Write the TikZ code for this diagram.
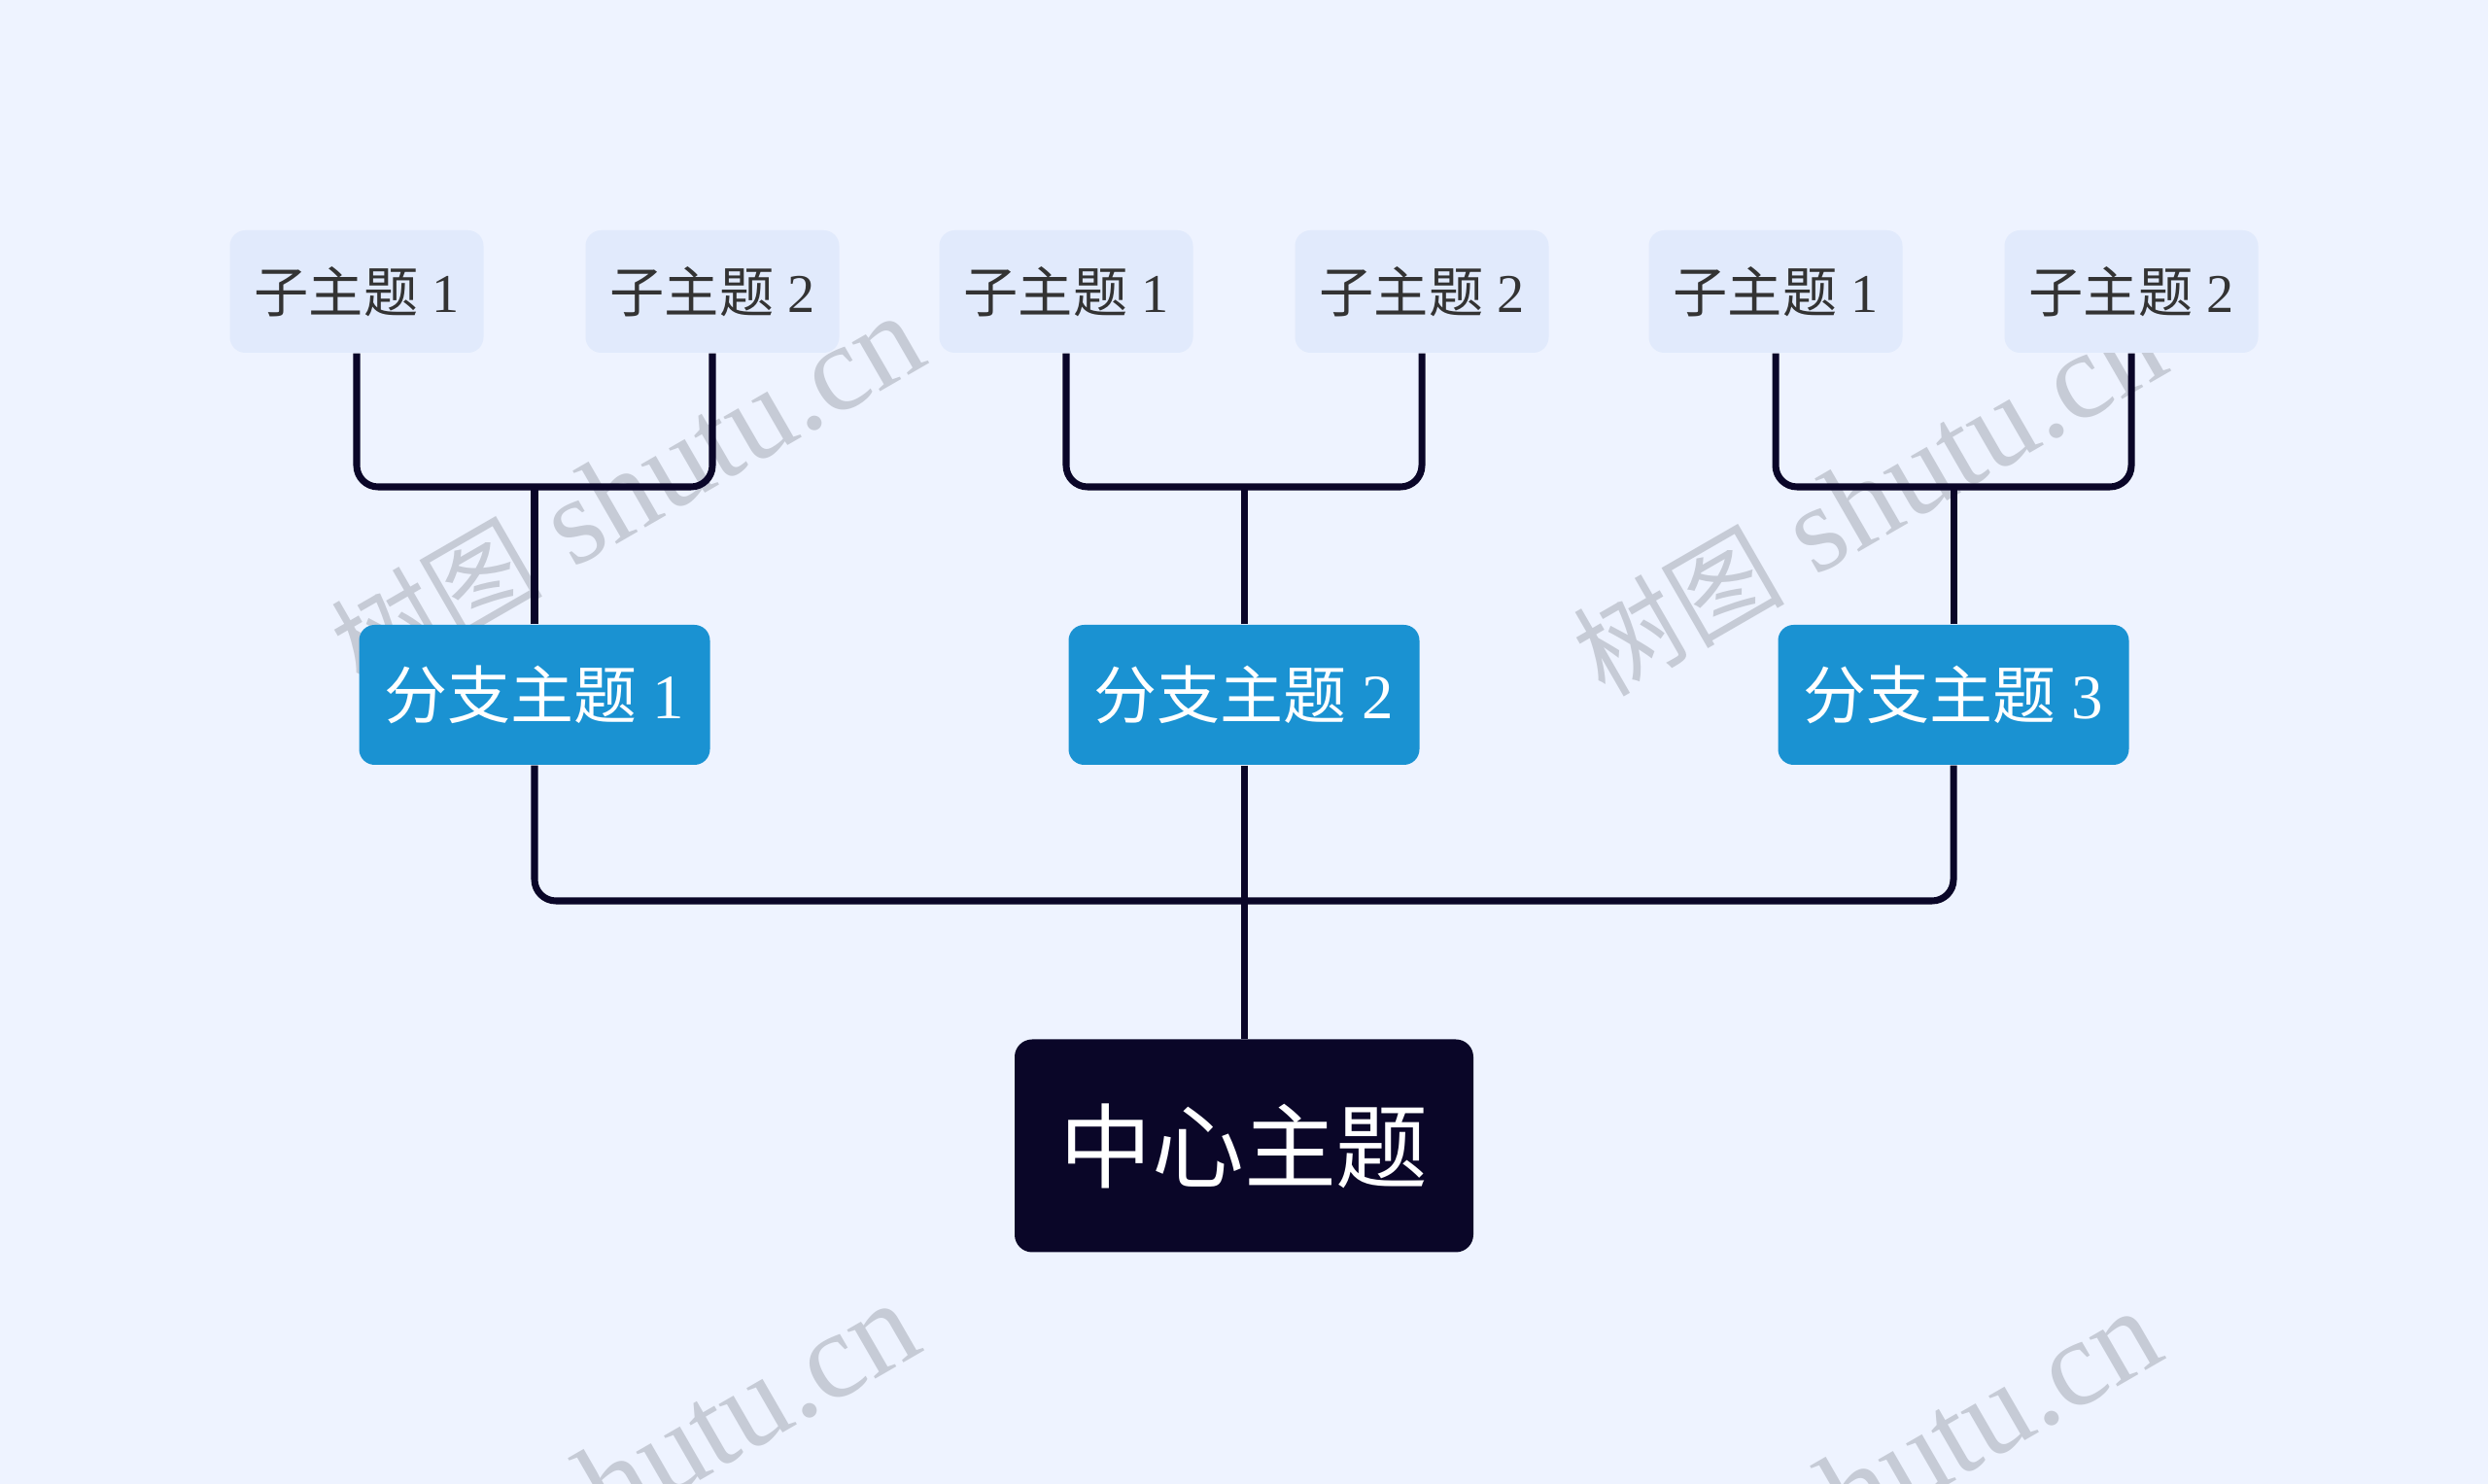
\documentclass[tikz,border=0pt]{standalone}
\usepackage{fontspec}
\setmainfont{Liberation Serif}
\newfontfamily\cjk{Noto Sans CJK SC}
\definecolor{pagebg}{HTML}{EEF3FF}
\definecolor{subfill}{HTML}{E1EAFC}
\definecolor{subtext}{HTML}{333333}
\definecolor{branchfill}{HTML}{1A92D2}
\definecolor{centerfill}{HTML}{0A0628}
\definecolor{edgecolor}{HTML}{0A0628}
\definecolor{markgray}{HTML}{C6CBD6}

\begin{document}
\begin{tikzpicture}
\clip (0,0) rectangle (25.6,15.27);
\fill[pagebg] (0,0) rectangle (25.6,15.27);

\coordinate (C_1) at (12.8, 3.48);
\coordinate (B_1) at (5.5, 8.12);
\coordinate (B_2) at (12.8, 8.12);
\coordinate (B_3) at (20.1, 8.12);
\coordinate (S1_1) at (3.67, 12.27);
\coordinate (S1_2) at (7.33, 12.27);
\coordinate (S2_1) at (10.97, 12.27);
\coordinate (S2_2) at (14.63, 12.27);
\coordinate (S3_1) at (18.27, 12.27);
\coordinate (S3_2) at (21.93, 12.27);
\coordinate (J_1) at (5.5, 10.26);
\coordinate (J_2) at (12.8, 10.26);
\coordinate (J_3) at (20.1, 10.26);
\coordinate (T_1) at (12.8, 6.0);


\tikzset{MarkStyle/.style = {
 text = markgray,
 rotate = 30,
 inner sep = 0pt,
 font = \fontsize{36}{40}\selectfont} }
\newcommand{\markcjk}{\cjk\fontsize{31}{36}\selectfont}

\node[MarkStyle] (Mark1) at (6.45, 10.21) {{\markcjk 树图} shutu.cn};
\node[MarkStyle] (Mark2) at (19.23, 10.13) {{\markcjk 树图} shutu.cn};
\node[MarkStyle] (Mark3) at (6.40, 0.05) {{\markcjk 树图} shutu.cn};
\node[MarkStyle] (Mark4) at (19.18, -0.03) {{\markcjk 树图} shutu.cn};


\tikzset{CenterStyle/.style = {
 shape = rectangle,
 rounded corners = 0.18cm,
 fill = centerfill,
 text = white,
 inner sep = 0pt,
 minimum width = 4.72cm,
 minimum height = 2.19cm,
 font = \fontsize{27}{32}\selectfont} }

\tikzset{BranchStyle/.style = {
 shape = rectangle,
 rounded corners = 0.16cm,
 fill = branchfill,
 text = white,
 inner sep = 0pt,
 minimum width = 3.61cm,
 minimum height = 1.44cm,
 font = \fontsize{18.5}{22}\selectfont} }

\tikzset{SubStyle/.style = {
 shape = rectangle,
 rounded corners = 0.16cm,
 fill = subfill,
 text = subtext,
 inner sep = 0pt,
 minimum width = 2.61cm,
 minimum height = 1.26cm,
 font = \fontsize{16}{19}\selectfont} }

\node[CenterStyle] (Center) at (C_1) {\cjk 中心主题};
\node[BranchStyle] (Branch1) at (B_1) {{\cjk 分支主题} 1};
\node[BranchStyle] (Branch2) at (B_2) {{\cjk 分支主题} 2};
\node[BranchStyle] (Branch3) at (B_3) {{\cjk 分支主题} 3};
\node[SubStyle] (Sub1_1) at (S1_1) {{\cjk 子主题} 1};
\node[SubStyle] (Sub1_2) at (S1_2) {{\cjk 子主题} 2};
\node[SubStyle] (Sub2_1) at (S2_1) {{\cjk 子主题} 1};
\node[SubStyle] (Sub2_2) at (S2_2) {{\cjk 子主题} 2};
\node[SubStyle] (Sub3_1) at (S3_1) {{\cjk 子主题} 1};
\node[SubStyle] (Sub3_2) at (S3_2) {{\cjk 子主题} 2};


\tikzset{EdgeStyle/.style = {draw = edgecolor, line width = 2pt, rounded corners = 0.22cm} }

\draw[EdgeStyle] (Branch1.south) -- (Branch1.south |- T_1) -- (Branch3.south |- T_1) -- (Branch3.south);
\draw[EdgeStyle] (Branch2.south) -- (Center.north);

\draw[EdgeStyle] (Sub1_1.south) -- (Sub1_1.south |- J_1) -- (Sub1_2.south |- J_1) -- (Sub1_2.south);
\draw[EdgeStyle] (Sub2_1.south) -- (Sub2_1.south |- J_2) -- (Sub2_2.south |- J_2) -- (Sub2_2.south);
\draw[EdgeStyle] (Sub3_1.south) -- (Sub3_1.south |- J_3) -- (Sub3_2.south |- J_3) -- (Sub3_2.south);
\draw[EdgeStyle] (Branch1.north) -- (J_1);
\draw[EdgeStyle] (Branch2.north) -- (J_2);
\draw[EdgeStyle] (Branch3.north) -- (J_3);

\end{tikzpicture}
\end{document}
